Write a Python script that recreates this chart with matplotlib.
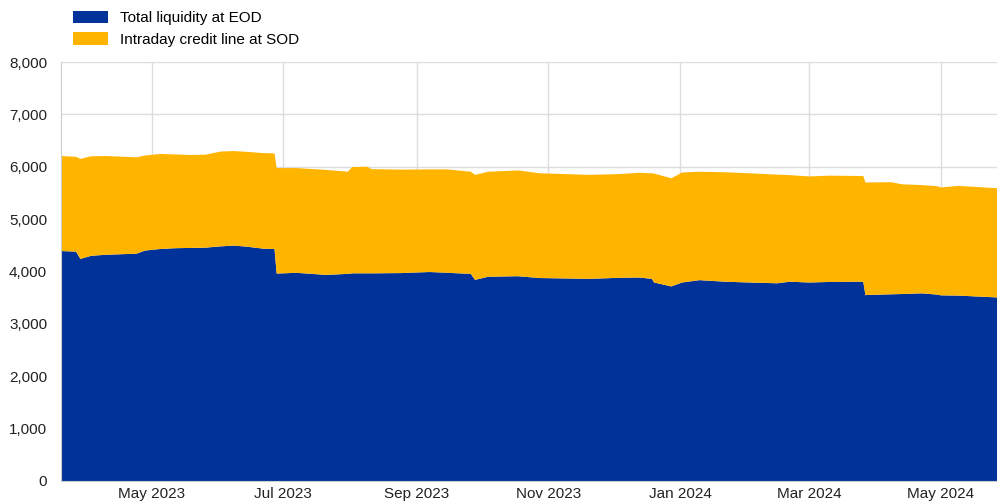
import matplotlib
matplotlib.use("Agg")
import matplotlib.pyplot as plt
import matplotlib.dates as mdates
from matplotlib.ticker import FuncFormatter
import pandas as pd

plt.rcParams["font.family"] = ["Liberation Sans", "DejaVu Sans"]

BLUE = "#003299"
GOLD = "#FFB400"

# values (EUR bn); total = liquidity + credit line
dates = [
    "2023-03-20", "2023-03-27", "2023-03-29", "2023-04-03", "2023-04-10",
    "2023-04-24", "2023-04-28", "2023-05-05", "2023-05-12", "2023-05-19",
    "2023-05-26", "2023-06-02", "2023-06-08", "2023-06-14", "2023-06-22",
    "2023-06-27", "2023-06-28", "2023-07-07", "2023-07-21", "2023-07-31",
    "2023-08-02", "2023-08-09", "2023-08-11", "2023-08-25", "2023-09-07",
    "2023-09-15", "2023-09-26", "2023-09-28", "2023-10-04", "2023-10-18",
    "2023-10-28", "2023-11-20", "2023-12-04", "2023-12-13", "2023-12-19",
    "2023-12-20", "2023-12-28", "2024-01-02", "2024-01-10", "2024-01-22",
    "2024-02-02", "2024-02-15", "2024-02-21", "2024-03-01", "2024-03-10",
    "2024-03-26", "2024-03-27", "2024-04-08", "2024-04-13", "2024-04-22",
    "2024-04-29", "2024-05-01", "2024-05-09", "2024-05-27",
]
total = [
    6205, 6190, 6150, 6200, 6205,
    6180, 6215, 6245, 6235, 6225,
    6230, 6290, 6300, 6285, 6260,
    6255, 5975, 5975, 5940, 5905,
    5995, 6000, 5955, 5945, 5950,
    5950, 5905, 5845, 5905, 5930,
    5875, 5845, 5860, 5885, 5875,
    5870, 5780, 5890, 5905, 5895,
    5875, 5850, 5840, 5815, 5830,
    5823, 5700, 5705, 5665, 5650,
    5630, 5605, 5635, 5590,
]
liquidity = [
    4391, 4379, 4240, 4300, 4320,
    4340, 4400, 4430, 4445, 4450,
    4455, 4480, 4495, 4475, 4435,
    4430, 3960, 3975, 3935, 3955,
    3965, 3965, 3965, 3970, 3990,
    3975, 3955, 3840, 3900, 3910,
    3875, 3860, 3880, 3885, 3860,
    3790, 3715, 3790, 3835, 3805,
    3790, 3775, 3805, 3790, 3800,
    3805, 3550, 3565, 3570, 3583,
    3560, 3545, 3540, 3505,
]

df = pd.DataFrame({"date": pd.to_datetime(dates), "total": total, "liquidity": liquidity})
df["credit"] = df["total"] - df["liquidity"]

fig = plt.figure(figsize=(9.97, 5.04), dpi=100)
ax = fig.add_axes([61 / 997, 23 / 504, 936 / 997, 419 / 504])

ax.stackplot(df["date"], df["liquidity"], df["credit"],
             colors=[BLUE, GOLD], labels=["Total liquidity at EOD", "Intraday credit line at SOD"],
             linewidth=0, zorder=2)

ax.set_xlim(df["date"].iloc[0], df["date"].iloc[-1])
ax.set_ylim(0, 8000)
ax.set_yticks(range(0, 8001, 1000))
ax.yaxis.set_major_formatter(FuncFormatter(lambda v, _: f"{v:,.0f}"))
ax.xaxis.set_major_locator(mdates.MonthLocator(bymonth=[1, 3, 5, 7, 9, 11]))
ax.xaxis.set_major_formatter(mdates.DateFormatter("%b %Y"))

ax.grid(True, color="#dddddd", linewidth=1, zorder=0)
ax.set_axisbelow(True)
for side in ("top", "right"):
    ax.spines[side].set_visible(False)
for side in ("left", "bottom"):
    ax.spines[side].set_color("#cccccc")
ax.tick_params(length=0, labelsize=11, colors="#222222")
ax.tick_params(axis="x", pad=4)
ax.tick_params(axis="y", pad=10)

fig.legend(loc="upper left", bbox_to_anchor=(62 / 997, 1.0), frameon=False,
           fontsize=11, handlelength=2.3, handleheight=0.9, handletextpad=0.8,
           labelspacing=0.45, borderaxespad=0.3)

fig.savefig("out.png", dpi=100)
